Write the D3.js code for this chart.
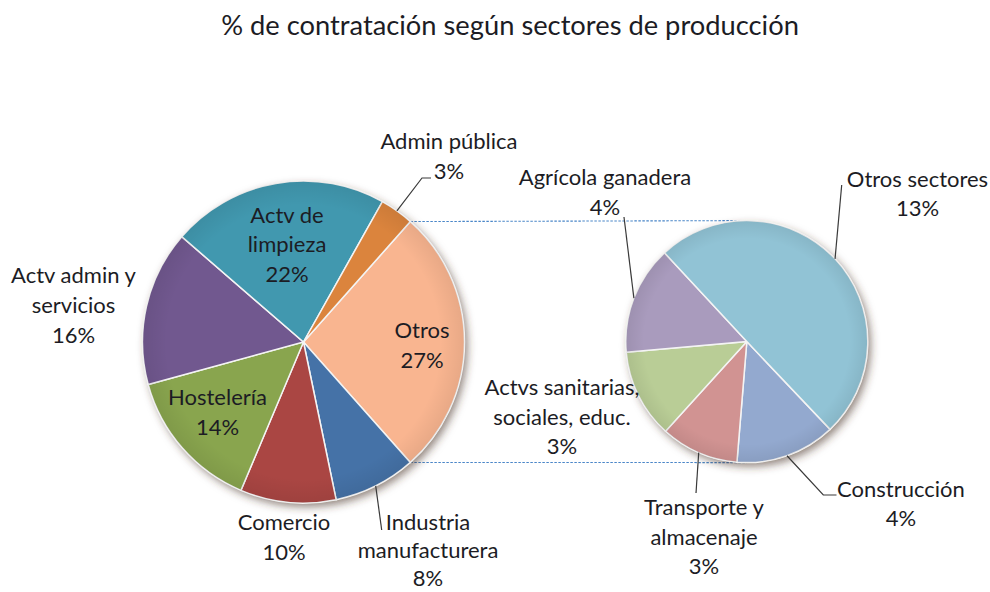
<!DOCTYPE html>
<html>
<head>
<meta charset="utf-8">
<script src="https://cdn.jsdelivr.net/npm/d3@7"></script>
<style>
  html, body { margin: 0; padding: 0; background: #ffffff; }
  svg { display: block; }
  text { font-family: Lato, "Open Sans", sans-serif; fill: #1c1c24; }
</style>
</head>
<body>
<svg id="chart" width="990" height="592"></svg>
<script>
// ---------- DATA ----------
const chartTitle = "% de contratación según sectores de producción";
const mainCategories = ["Industria manufacturera", "Comercio", "Hostelería", "Actv admin y servicios", "Actv de limpieza", "Admin pública"];
const mainValues = [8.3, 9.6, 14.4, 15.6, 21.8, 3.4];
const otherCategory = "Otros";
const subCategories = ["Construcción", "Transporte y almacenaje", "Actvs sanitarias, sociales, educ.", "Agrícola ganadera", "Otros sectores"];
const subValues = [3.6, 2.8, 3.2, 3.9, 13.4];

// ---------- STYLE / LAYOUT ----------
const mainColors = ["#4572A7", "#AA4643", "#89A54E", "#71588F", "#4198AF", "#DB843D"];
const subColors = ["#93A9CF", "#D19392", "#B9CD96", "#A99BBD", "#91C3D5"];
const otherColor = "#F9B590";

const mainCenter = [303.5, 342], mainR = 161;
const subCenter = [746.8, 341.6], subR = 121;
const subStartDeg = 136.5;
const lineH = 29.7;
const fontSize = 22;

// label layout: centre x, first baseline y, words on first lines, leader end points
const labelLayout = {
  "Otros": {x: 422, y: 338.3},
  "Industria manufacturera": {x: 428, y: 530, lh: 28.2, breaks: [1], leader: [[381.7, 530]]},
  "Comercio": {x: 284, y: 530},
  "Hostelería": {x: 217.5, y: 405},
  "Actv admin y servicios": {x: 73.5, y: 283.3, breaks: [3]},
  "Actv de limpieza": {x: 287, y: 222.7, breaks: [2, 1]},
  "Admin pública": {x: 449, y: 149.3, leader: [[422, 178], [431, 178]]},
  "Construcción": {x: 901, y: 496.7, leader: [[823.3, 495], [836.5, 495]]},
  "Transporte y almacenaje": {x: 704, y: 515, breaks: [2], leader: [[696, 493]]},
  "Actvs sanitarias, sociales, educ.": {x: 562, y: 395, breaks: [2]},
  "Agrícola ganadera": {x: 605, y: 185, leader: [[624, 217]]},
  "Otros sectores": {x: 917.5, y: 186.7, leader: [[841.7, 185]]}
};

// ---------- DRAW ----------
const svg = d3.select("#chart");
const defs = svg.append("defs");
const f = defs.append("filter").attr("id", "shadow")
  .attr("x", "-20%").attr("y", "-20%").attr("width", "140%").attr("height", "140%");
f.append("feDropShadow").attr("dx", 3).attr("dy", 4).attr("stdDeviation", 4)
  .attr("flood-color", "#4a3328").attr("flood-opacity", 0.6);
const rg = defs.append("radialGradient").attr("id", "shade")
  .attr("cx", "50%").attr("cy", "50%").attr("r", "50%");
rg.append("stop").attr("offset", "0%").attr("stop-color", "#ffffff").attr("stop-opacity", 0.0);
rg.append("stop").attr("offset", "85%").attr("stop-color", "#000000").attr("stop-opacity", 0.0);
rg.append("stop").attr("offset", "100%").attr("stop-color", "#000000").attr("stop-opacity", 0.07);

svg.append("text")
  .attr("x", 510).attr("y", 35)
  .attr("text-anchor", "middle")
  .style("font-size", "27.3px")
  .text(chartTitle);

const otherValue = d3.sum(subValues);
const total = d3.sum(mainValues) + otherValue;
const pct = v => Math.round(v / total * 100) + "%";
const deg = Math.PI / 180;

// main pie: "Otros" first, centred on the right side
const mainData = [{name: otherCategory, value: otherValue, color: otherColor}]
  .concat(mainCategories.map((c, i) => ({name: c, value: mainValues[i], color: mainColors[i]})));
const otherSpan = otherValue / total * 2 * Math.PI;
const mainPie = d3.pie().sort(null).value(d => d.value)
  .startAngle(Math.PI / 2 - otherSpan / 2).endAngle(Math.PI / 2 - otherSpan / 2 + 2 * Math.PI);
const mainArcs = mainPie(mainData);

const subData = subCategories.map((c, i) => ({name: c, value: subValues[i], color: subColors[i]}));
const subPie = d3.pie().sort(null).value(d => d.value)
  .startAngle(subStartDeg * deg).endAngle(subStartDeg * deg + 2 * Math.PI);
const subArcs = subPie(subData);

// connector lines
const oArc = mainArcs[0];
const pt = (c, r, a) => [c[0] + r * Math.sin(a), c[1] - r * Math.cos(a)];
const topStart = pt(mainCenter, mainR, oArc.startAngle);
const botStart = pt(mainCenter, mainR, oArc.endAngle);
const conn = svg.append("g").attr("fill", "none").attr("stroke", "#4a86c8")
  .attr("stroke-width", 1.1).attr("stroke-dasharray", "2.5,1.5");
conn.append("line").attr("x1", topStart[0]).attr("y1", topStart[1])
  .attr("x2", subCenter[0]).attr("y2", subCenter[1] - subR);
conn.append("line").attr("x1", botStart[0]).attr("y1", botStart[1])
  .attr("x2", subCenter[0]).attr("y2", subCenter[1] + subR);

function drawPie(arcs, center, r) {
  const arc = d3.arc().innerRadius(0).outerRadius(r);
  const g = svg.append("g").attr("transform", `translate(${center[0]},${center[1]})`);
  g.append("circle").attr("r", r).attr("fill", "#ffffff").attr("filter", "url(#shadow)");
  g.selectAll("path.slice").data(arcs).join("path")
    .attr("class", "slice")
    .attr("d", arc)
    .attr("fill", d => d.data.color)
    .attr("stroke", "#f4f4f4").attr("stroke-width", 1.5);
  g.append("circle").attr("r", r).attr("fill", "url(#shade)").attr("pointer-events", "none");
}
drawPie(mainArcs, mainCenter, mainR);
drawPie(subArcs, subCenter, subR);

// labels and leaders
function drawLabels(arcs, center, r) {
  arcs.forEach(a => {
    const L = labelLayout[a.data.name];
    if (!L) return;
    if (L.leader) {
      const mid = (a.startAngle + a.endAngle) / 2;
      const p0 = pt(center, r, mid);
      const pts = [p0].concat(L.leader);
      svg.append("path").attr("d", d3.line()(pts))
        .attr("fill", "none").attr("stroke", "#3a3a3a").attr("stroke-width", 1.2);
    }
    const words = a.data.name.split(" ");
    const lines = [];
    let k = 0;
    (L.breaks || []).forEach(b => { lines.push(words.slice(k, k + b).join(" ")); k += b; });
    if (k < words.length) lines.push(words.slice(k).join(" "));
    lines.push(pct(a.data.value));
    const lh = L.lh || lineH;
    const t = svg.append("text").attr("text-anchor", "middle").style("font-size", fontSize + "px");
    lines.forEach((ln, i) => {
      t.append("tspan").attr("x", L.x).attr("y", L.y + i * lh).text(ln);
    });
  });
}
drawLabels(mainArcs, mainCenter, mainR);
drawLabels(subArcs, subCenter, subR);
</script>
</body>
</html>
